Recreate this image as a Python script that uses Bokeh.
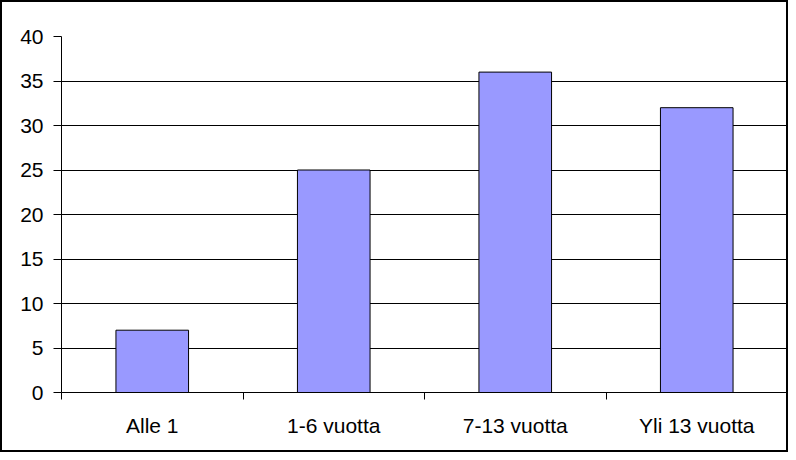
from bokeh.plotting import figure
from bokeh.models import FixedTicker, Range1d
from bokeh.embed import file_html
from bokeh.resources import INLINE

categories = ["Alle 1", "1-6 vuotta", "7-13 vuotta", "Yli 13 vuotta"]
values = [7, 25, 36, 32]
y_ticks = [0, 5, 10, 15, 20, 25, 30, 35, 40]

centers = [i + 0.5 for i in range(len(categories))]
bounds = list(range(len(categories) + 1))

p = figure(width=788, height=452, output_backend="svg", toolbar_location=None,
           x_range=Range1d(0, len(categories)), y_range=Range1d(0, 40),
           min_border_left=59, min_border_right=3, min_border_top=34, min_border_bottom=62)
p.styles = {"border": "2px solid black", "box-sizing": "border-box"}
p.outline_line_color = None
p.background_fill_color = "white"

p.vbar(x=centers, top=values, width=0.4, fill_color="#9999FF", line_color="black", line_width=1)

font = "Liberation Sans"
p.xaxis.ticker = FixedTicker(ticks=centers, minor_ticks=bounds)
p.xaxis.major_label_overrides = {c: lab for c, lab in zip(centers, categories)}
p.xaxis.major_tick_line_color = None
p.xaxis.major_tick_out = 0
p.xaxis.major_tick_in = 0
p.xaxis.minor_tick_out = 7
p.xaxis.minor_tick_in = 0
p.xaxis.minor_tick_line_color = "black"
p.xaxis.major_label_standoff = 14
p.xaxis.axis_line_color = "black"

p.yaxis.ticker = FixedTicker(ticks=y_ticks)
p.yaxis.major_tick_out = 8
p.yaxis.major_tick_in = 0
p.yaxis.minor_tick_line_color = None
p.yaxis.major_label_standoff = 10
p.yaxis.axis_line_color = "black"

for ax in (p.xaxis, p.yaxis):
    ax.major_label_text_font = font
    ax.major_label_text_font_size = "21px"
    ax.major_label_text_color = "black"

p.xgrid.grid_line_color = None
p.ygrid.ticker = FixedTicker(ticks=y_ticks)
p.ygrid.grid_line_color = "black"
p.ygrid.grid_line_width = 1

open("out.html", "w").write(file_html(p, INLINE))
